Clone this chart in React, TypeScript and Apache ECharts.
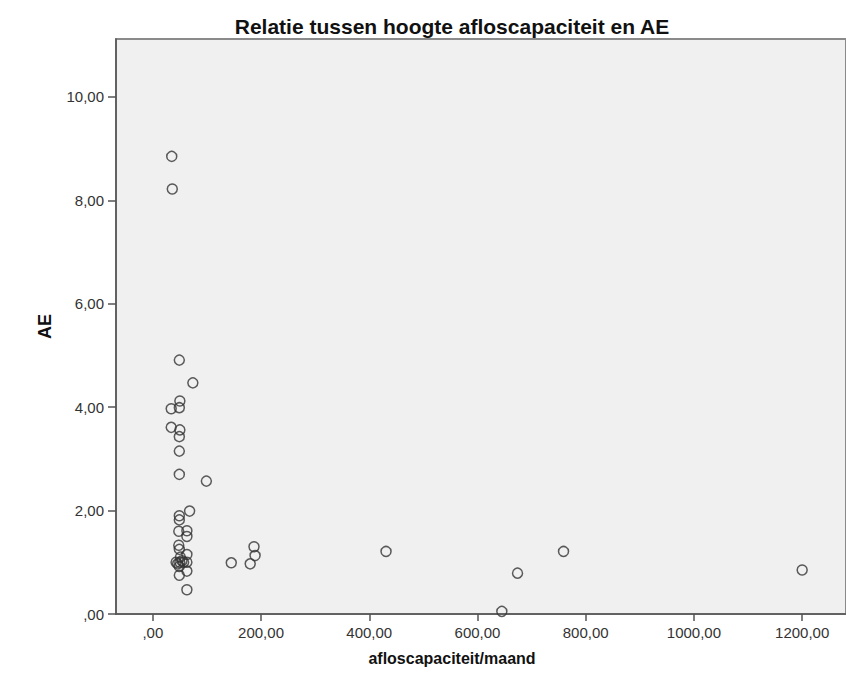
import React, { useEffect, useRef } from "react";
import * as echarts from "echarts";

const titleText = "Relatie tussen hoogte afloscapaciteit en AE";
const xName = "afloscapaciteit/maand";
const yName = "AE";

const xTicks = [0, 200, 400, 600, 800, 1000, 1200];
const yTicks = [0, 2, 4, 6, 8, 10];

const xValues = [
  35, 36,
  49, 74, 50, 34, 49, 34, 50, 49, 49, 49, 99, 68, 49, 49, 48, 63, 63, 48, 49, 63,
  43, 50, 57, 63, 51, 49, 63, 49, 63, 46, 54,
  145, 180, 187, 189, 431, 645, 674, 759, 1200,
];
const yValues = [
  8.85, 8.22,
  4.91, 4.47, 4.12, 3.97, 3.99, 3.61, 3.56, 3.43, 3.15, 2.7, 2.57, 1.99, 1.9, 1.82, 1.6, 1.61, 1.5, 1.33, 1.25, 1.15,
  1.0, 1.0, 1.0, 1.0, 1.1, 0.92, 0.83, 0.75, 0.47, 0.97, 1.03,
  0.99, 0.97, 1.3, 1.13, 1.21, 0.05, 0.79, 1.21, 0.85,
];

const fmt = (v: number) => {
  const s = v.toFixed(2).replace(".", ",");
  return s.startsWith("0,") ? s.slice(1) : s;
};

export default function App() {
  const ref = useRef<HTMLDivElement>(null);
  useEffect(() => {
    if (!ref.current) return;
    const chart = echarts.init(ref.current, undefined, { renderer: "svg" });
    const data = xValues.map((x, i) => [x, yValues[i]]);
    chart.setOption({
      animation: false,
      backgroundColor: "#ffffff",
      title: {
        text: titleText,
        left: 447,
        top: 11,
        textAlign: "center",
        textStyle: { fontFamily: "Liberation Sans", fontSize: 21, fontWeight: "bold", color: "#111" },
      },
      grid: {
        left: 116,
        top: 39,
        right: -3,
        bottom: 61,
        show: true,
        backgroundColor: "#f0f0f0",
        borderColor: "#8a8a8a",
        borderWidth: 2,
      },
      xAxis: {
        type: "value",
        min: -68,
        max: 1281,
        splitLine: { show: false },
        axisLine: { show: true, onZero: false, lineStyle: { color: "#555", width: 1.5 } },
        axisTick: { show: true, length: 7, customValues: xTicks, lineStyle: { color: "#555", width: 1.5 } },
        axisLabel: {
          customValues: xTicks,
          formatter: fmt,
          margin: 11,
          fontFamily: "Liberation Sans",
          fontSize: 15,
          color: "#333",
        },
      },
      yAxis: {
        type: "value",
        min: 0,
        max: 11.12,
        name: yName,
        nameLocation: "middle",
        nameGap: 62,
        nameTextStyle: { fontFamily: "Liberation Sans", fontSize: 18, fontWeight: "bold", color: "#111" },
        splitLine: { show: false },
        axisLine: { show: true, onZero: false, lineStyle: { color: "#555", width: 1.5 } },
        axisTick: { show: true, length: 8, customValues: yTicks, lineStyle: { color: "#555", width: 1.5 } },
        axisLabel: {
          customValues: yTicks,
          formatter: fmt,
          margin: 12,
          fontFamily: "Liberation Sans",
          fontSize: 15,
          color: "#333",
        },
      },
      graphic: [
        {
          type: "text",
          x: 452,
          y: 650,
          style: {
            text: xName,
            textAlign: "center",
            fontFamily: "Liberation Sans",
            fontSize: 16,
            fontWeight: "bold",
            fill: "#111",
          },
        },
      ],
      series: [
        {
          type: "scatter",
          data,
          symbol: "circle",
          symbolSize: 10,
          itemStyle: { color: "rgba(0,0,0,0)", borderColor: "#333", borderWidth: 1.5 },
        },
      ],
    });
    return () => chart.dispose();
  }, []);
  return (
    <div
      ref={ref}
      style={{ position: "fixed", left: 0, top: 0, width: 846, height: 675 }}
    />
  );
}
